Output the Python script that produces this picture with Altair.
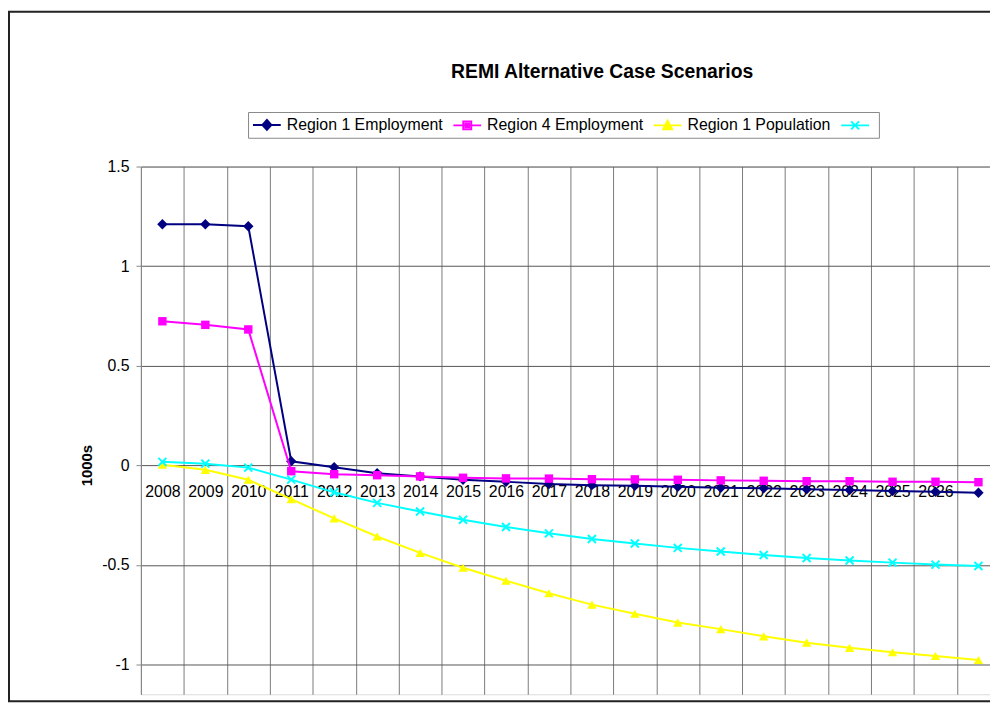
import altair as alt
import pandas as pd

FONT = "Liberation Sans, Arial, sans-serif"

years = [str(y) for y in range(2008, 2028)]
series_names = ["Region 1 Employment", "Region 4 Employment", "Region 1 Population", "Series 4"]
region1_emp = [1.21, 1.21, 1.20, 0.02, -0.01, -0.04, -0.056, -0.073, -0.083, -0.094,
               -0.10, -0.103, -0.108, -0.113, -0.116, -0.121, -0.124, -0.129, -0.133, -0.138]
region4_emp = [0.723, 0.705, 0.682, -0.03, -0.045, -0.05, -0.056, -0.063, -0.066, -0.067,
               -0.07, -0.071, -0.073, -0.076, -0.078, -0.08, -0.08, -0.083, -0.083, -0.085]
region1_pop = [0.003, -0.023, -0.073, -0.17, -0.267, -0.358, -0.44, -0.515, -0.58, -0.643,
               -0.70, -0.746, -0.79, -0.823, -0.859, -0.891, -0.917, -0.939, -0.958, -0.978]
series4 = [0.017, 0.008, -0.012, -0.072, -0.136, -0.189, -0.232, -0.274, -0.31, -0.342,
           -0.37, -0.393, -0.415, -0.433, -0.451, -0.466, -0.478, -0.489, -0.499, -0.506]
colors = ["#000080", "#FF00FF", "#FFFF00", "#00FFFF"]
y_ticks = [-1, -0.5, 0, 0.5, 1, 1.5]

all_values = [region1_emp, region4_emp, region1_pop, series4]
rows = []
for name, vals in zip(series_names, all_values):
    for yr, v in zip(years, vals):
        rows.append({"year": yr, "value": v, "series": name})
df = pd.DataFrame(rows)

X_PATH = ("M-1,-0.7L-0.7,-1L0,-0.3L0.7,-1L1,-0.7L0.3,0L1,0.7L0.7,1L0,0.3"
          "L-0.7,1L-1,0.7L-0.3,0Z")
marker_specs = [("diamond", 110), ("square", 72), ("triangle-up", 90), (X_PATH, 90)]
# legend symbols: a line with the series marker at its middle (drawn to the right of the symbol box)
legend_shapes = [
    "M-1,0H2.5M0.75,-0.625L1.31,0L0.75,0.625L0.19,0ZM0.75,-0.3L1.02,0L0.75,0.3L0.48,0Z"
    "M0.75,-0.08L0.83,0L0.75,0.08L0.67,0Z",
    "M-1,0H2.5M0.25,-0.5H1.25V0.5H0.25ZM0.53,-0.22H0.97V0.22H0.53Z"
    "M0.7,-0.05H0.8V0.05H0.7Z",
    "M-1,0H2.5M0.75,-0.6L1.31,0.5H0.19ZM0.75,-0.15L1.0,0.3H0.5Z",
    "M-1,0H2.5M0.25,-0.5L1.25,0.5M0.25,0.5L1.25,-0.5",
]

x_enc = alt.X(
    "year:O",
    scale=alt.Scale(type="band", domain=years, range=[0, 866], paddingInner=0, paddingOuter=0),
    axis=alt.Axis(
        title=None, labelAngle=0, tickBand="extent", grid=True, gridColor="#7a7a7a",
        gridWidth=1, ticks=False, domain=False, labelPadding=19, labelFontSize=16,
        labelFont=FONT, labelColor="black", offset=-231, labelOverlap=False,
        labelExpr="datum.label == '2027' ? '' : datum.label",
    ),
)
y_enc = alt.Y(
    "value:Q",
    scale=alt.Scale(domain=[-1.15, 1.5], nice=False, zero=False),
    axis=alt.Axis(
        values=y_ticks, title="1000s", titleFont=FONT, titleFontSize=15,
        titleFontWeight="bold", titleColor="black", titleX=-55, titleY=301,
        titleAngle=270, titleBaseline="middle", titleAlign="center",
        labelExpr="toString(datum.value)", labelFont=FONT, labelFontSize=16,
        labelColor="black", labelPadding=7, tickSize=5, tickColor="#888",
        domainColor="#888", gridColor="#555", grid=True,
    ),
)

base = alt.Chart(df)

series_layers = []
for name, col, (shp, sz) in zip(series_names, colors, marker_specs):
    sub = base.transform_filter(alt.datum.series == name)
    series_layers.append(
        sub.mark_line(strokeWidth=2, color=col).encode(x=x_enc, y=y_enc, order="year:O")
    )
    series_layers.append(
        sub.mark_point(filled=True, opacity=1, shape=shp, size=sz, color=col).encode(x=x_enc, y=y_enc)
    )

leg = alt.Legend(
    title=None, orient="none", legendX=108, legendY=-55, direction="horizontal",
    columns=4, padding=4, strokeColor="#888", fillColor="white", labelFont=FONT,
    labelFontSize=16, labelColor="black", labelOffset=17, columnPadding=6,
    symbolStrokeWidth=2, symbolSize=256, labelLimit=0,
    labelExpr="datum.label == 'Series 4' ? '' : datum.label",
)

legend_layer = base.transform_filter("false").mark_point(
    size=256, strokeWidth=2, opacity=1, filled=False
).encode(
    color=alt.Color("series:N", scale=alt.Scale(domain=series_names, range=colors), legend=leg),
    shape=alt.Shape("series:N", scale=alt.Scale(domain=series_names, range=legend_shapes), legend=leg),
)

frame = alt.Chart(pd.DataFrame({"f": [0]})).mark_rect(
    fillOpacity=0, stroke="#222", strokeWidth=2
).encode(
    x=alt.value(-133), x2=alt.value(950), y=alt.value(-156), y2=alt.value(539)
)

chart = alt.layer(*series_layers, legend_layer, frame).properties(
    width=856,
    height=532,
    autosize=alt.AutoSizeParams(type="none"),
    padding={"left": 134, "top": 157, "right": 0, "bottom": 8},
    title=alt.TitleParams(
        "REMI Alternative Case Scenarios", font=FONT, fontSize=19.5, fontWeight="bold",
        color="black", anchor="middle", dx=37, dy=87, offset=0, baseline="alphabetic",
        frame="group",
    ),
).configure_view(strokeWidth=0).configure(background="white")

chart.save("out.html", embed_options={"renderer": "svg", "actions": False})
